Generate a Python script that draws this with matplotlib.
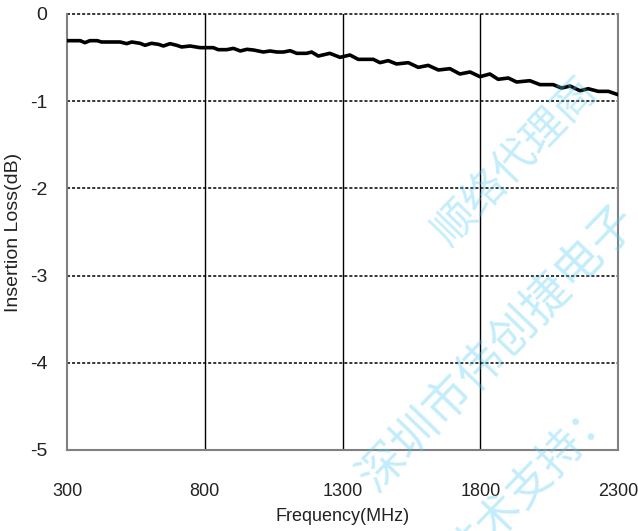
#!/usr/bin/python
# -*- coding: utf-8 -*-
"""
Insertion loss vs frequency
"""
import numpy as np
import matplotlib
matplotlib.use('Agg')
import matplotlib.pyplot as plt

#---------------------DATA------------------------
freq = [300, 348, 365, 383, 410, 425, 493, 517, 535, 565, 583, 607, 632, 650,
        674, 698, 716, 747, 783, 831, 849, 880, 904, 929, 953, 977, 1013, 1037,
        1062, 1086, 1110, 1134, 1170, 1188, 1212, 1254, 1291, 1327, 1357, 1412,
        1436, 1466, 1496, 1539, 1575, 1611, 1648, 1690, 1726, 1763, 1799, 1835,
        1865, 1902, 1932, 1980, 2017, 2065, 2095, 2126, 2162, 2192, 2228, 2265,
        2300]
loss = [-0.306, -0.306, -0.329, -0.306, -0.306, -0.321, -0.321, -0.340, -0.321,
        -0.336, -0.359, -0.336, -0.348, -0.367, -0.340, -0.359, -0.378, -0.367,
        -0.386, -0.386, -0.409, -0.409, -0.394, -0.424, -0.405, -0.413, -0.436,
        -0.424, -0.436, -0.436, -0.421, -0.451, -0.451, -0.436, -0.482, -0.451,
        -0.497, -0.470, -0.520, -0.520, -0.558, -0.535, -0.573, -0.558, -0.612,
        -0.589, -0.642, -0.627, -0.688, -0.665, -0.719, -0.688, -0.749, -0.734,
        -0.780, -0.765, -0.810, -0.810, -0.849, -0.826, -0.880, -0.857, -0.887,
        -0.887, -0.925]

xticks = [300, 800, 1300, 1800, 2300]
yticks = [0, -1, -2, -3, -4, -5]

watermark = ["顺络代理商", "深圳市伟创捷电子", "技术支持："]
#-------------------------------------------------

#---------------------FONT------------------------
plt.rcParams['font.family'] = ['Liberation Sans', 'DejaVu Sans']

#------------Figure Layout--------------
fig = plt.figure(figsize=(6.38, 5.31), dpi=100)
ax = fig.add_axes([67/638., 1-450/531., 551/638., 436/531.])

ax.set_xlim(300, 2300)
ax.set_ylim(-5, 0)
ax.set_xticks(xticks)
ax.set_yticks(yticks)
ax.set_xticklabels([str(v) for v in xticks], size=13, color='#222222')
ax.set_yticklabels([str(v) for v in yticks], size=14, color='#222222')
ax.tick_params(axis='x', length=0, pad=24)
ax.tick_params(axis='y', length=0, pad=14)

# grid: solid verticals, dashed horizontals
for xv in xticks[1:-1]:
    ax.axvline(xv, color='black', linewidth=1.0, zorder=1)
for yv in yticks[:-1]:
    ax.axhline(yv, color='black', linewidth=1.1, linestyle=(0, (2.0, 1.3)), zorder=1, clip_on=False)

for side in ['left', 'bottom', 'right']:
    ax.spines[side].set_color('#808080')
    ax.spines[side].set_linewidth(1.5)
ax.spines['top'].set_visible(False)

ax.set_xlabel('Frequency(MHz)', size=13, color='#222222')
ax.set_ylabel('Insertion Loss(dB)', size=14, color='#222222')
ax.xaxis.set_label_coords(0.5, -0.133)
ax.yaxis.set_label_coords(-0.082, 0.5)

#PLOT
ax.plot(freq, loss, color='black', linewidth=2.6, solid_joinstyle='round', zorder=3)

#WATERMARK
wm = dict(family=['Noto Sans CJK SC', 'DejaVu Sans'], color='#55ccf5', alpha=0.35,
          rotation=46, rotation_mode='anchor', zorder=10)
fig.text(516/638., 1-162/531., watermark[0], ha='center', va='center', size=31, **wm)
fig.text(367/638., 1-485/531., watermark[1], ha='left', va='center', size=34, **wm)
fig.text(608/638., 1-404/531., watermark[2], ha='right', va='center', size=32, **wm)

#SAVING
fig.savefig("out.png", dpi=100)
